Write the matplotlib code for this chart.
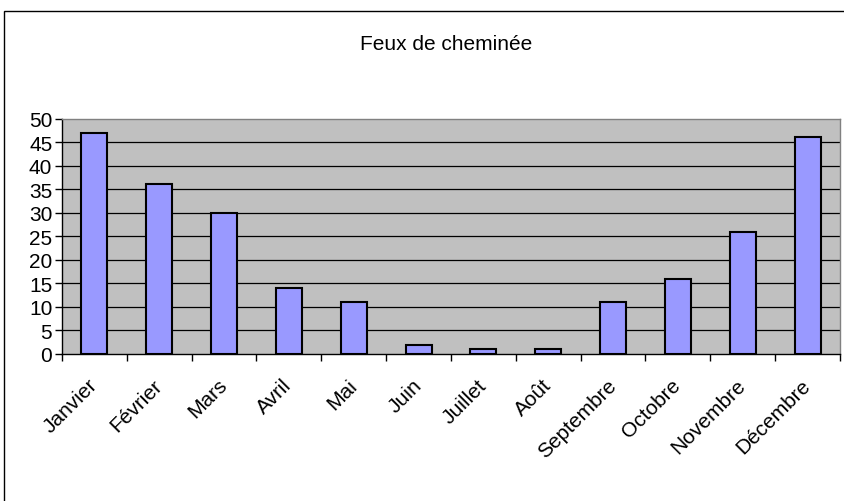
import matplotlib
matplotlib.use("Agg")
import matplotlib.pyplot as plt
from matplotlib.patches import Rectangle

months = ["Janvier", "Février", "Mars", "Avril", "Mai", "Juin", "Juillet",
          "Août", "Septembre", "Octobre", "Novembre", "Décembre"]
values = [47, 36, 30, 14, 11, 2, 1, 1, 11, 16, 26, 46]
yticks = [0, 5, 10, 15, 20, 25, 30, 35, 40, 45, 50]
title = "Feux de cheminée"

plt.rcParams['font.family'] = ['Liberation Sans', 'DejaVu Sans']

W, H = 845, 502
fig = plt.figure(figsize=(W / 100, H / 100), dpi=100)
fig.patch.set_facecolor('white')

# outer chart frame (clipped on right and bottom)
fig.add_artist(Rectangle((4 / W, -0.01), 1.0, 1 - 12 / H + 0.01,
                         transform=fig.transFigure, fill=False,
                         edgecolor='black', linewidth=1.0))

left, right, top, bottom = 62, 840, 119.5, 355
ax = fig.add_axes([left / W, 1 - bottom / H, (right - left) / W, (bottom - top) / H])
ax.set_facecolor('#C0C0C0')

x = list(range(len(months)))
ax.bar(x, values, width=0.4, color='#9999FF', edgecolor='black', linewidth=1.5, zorder=3)

ax.set_xlim(-0.5, len(months) - 0.5)
ax.set_ylim(0, 50)
ax.set_yticks(yticks)
ax.set_yticklabels([str(t) for t in yticks], fontsize=15)
for t in yticks[1:-1]:
    ax.axhline(t, color='black', linewidth=0.9, zorder=1)

ax.set_xticks([i + 0.5 for i in range(-1, len(months))], minor=False)
ax.set_xticklabels([])
ax.tick_params(axis='x', which='major', length=5, width=1, direction='out')
ax.tick_params(axis='y', length=5, width=1, direction='out', pad=2)
ax.set_xticks(x, minor=True)
ax.set_xticklabels(months, minor=True, rotation=45, ha='right', va='center',
                   rotation_mode='anchor', fontsize=15)
ax.tick_params(axis='x', which='minor', length=0, pad=20)

for s in ['left', 'bottom']:
    ax.spines[s].set_color('black')
    ax.spines[s].set_linewidth(1.0)
for s in ['top', 'right']:
    ax.spines[s].set_color('#808080')
    ax.spines[s].set_linewidth(1.0)

fig.text(446 / W, 1 - 44 / H, title, ha='center', va='center', fontsize=15)

fig.savefig("out.png", dpi=100)
